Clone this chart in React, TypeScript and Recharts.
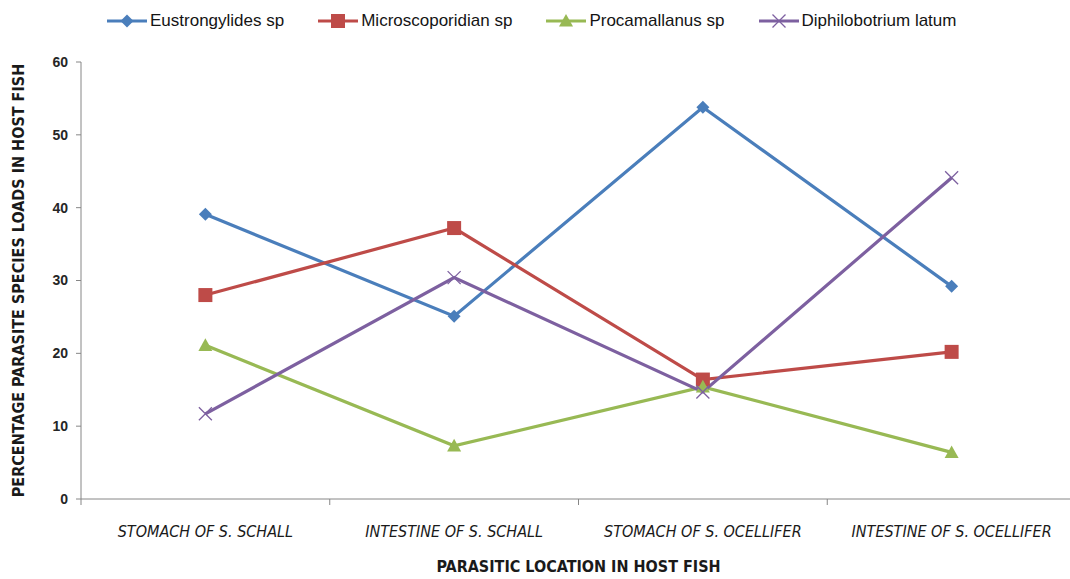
import React from 'react';
import { LineChart, Line, XAxis, YAxis, Label } from 'recharts';

// Parasite species loads (%) by location in the host fish
const locations = [
  'STOMACH OF S. SCHALL',
  'INTESTINE OF S. SCHALL',
  'STOMACH OF S. OCELLIFER',
  'INTESTINE OF S. OCELLIFER',
];
const eustrongylides = [39.1, 25.1, 53.8, 29.2];
const microscoporidian = [28.0, 37.2, 16.4, 20.2];
const procamallanus = [21.1, 7.3, 15.4, 6.4];
const diphilobotrium = [11.7, 30.4, 14.7, 44.1];
const yTicks = [0, 10, 20, 30, 40, 50, 60];

const seriesInfo = [
  { key: 'eus', name: 'Eustrongylides sp', color: '#4A7EBB', shape: 'diamond' },
  { key: 'mic', name: 'Microscoporidian sp', color: '#BE4B48', shape: 'square' },
  { key: 'pro', name: 'Procamallanus sp', color: '#98B954', shape: 'triangle' },
  { key: 'dip', name: 'Diphilobotrium latum', color: '#7D60A0', shape: 'cross' },
];

const data = locations.map((location, i) => ({
  location,
  eus: eustrongylides[i],
  mic: microscoporidian[i],
  pro: procamallanus[i],
  dip: diphilobotrium[i],
}));

const W = 1070;
const H = 579;
const MARGIN = { top: 62, right: -6, bottom: 30, left: 21 };
const Y_AXIS_W = 60;
const X_AXIS_H = 50;
const PLOT_LEFT = MARGIN.left + Y_AXIS_W;
const PLOT_W = W - PLOT_LEFT - MARGIN.right;
const PLOT_BOTTOM = H - MARGIN.bottom - X_AXIS_H;
const BAND = PLOT_W / locations.length;
const AXIS_COLOR = '#868686';
const FONT = '"Liberation Sans", Arial, sans-serif';
const NARROW = '"Liberation Sans Narrow", "DejaVu Sans Condensed", Arial, sans-serif';

function Marker({ shape, color, cx, cy }: { shape: string; color: string; cx: number; cy: number }) {
  if (cx == null || cy == null) return null;
  if (shape === 'diamond') {
    const r = 6.5;
    return <path d={`M${cx},${cy - r}L${cx + r},${cy}L${cx},${cy + r}L${cx - r},${cy}Z`} fill={color} />;
  }
  if (shape === 'square') {
    const r = 7;
    return <rect x={cx - r} y={cy - r} width={r * 2} height={r * 2} fill={color} />;
  }
  if (shape === 'triangle') {
    const r = 7;
    return <path d={`M${cx},${cy - r}L${cx + r},${cy + r * 0.8}L${cx - r},${cy + r * 0.8}Z`} fill={color} />;
  }
  const r = 6.5;
  return (
    <path
      d={`M${cx - r},${cy - r}L${cx + r},${cy + r}M${cx - r},${cy + r}L${cx + r},${cy - r}`}
      stroke={color}
      strokeWidth={1.3}
      fill="none"
    />
  );
}

function XTick(props: any) {
  const { x, payload } = props;
  return (
    <g>
      <line x1={x - BAND / 2} x2={x - BAND / 2} y1={PLOT_BOTTOM} y2={PLOT_BOTTOM + 6} stroke={AXIS_COLOR} />
      <text
        x={x}
        y={PLOT_BOTTOM + 38}
        textAnchor="middle"
        fontFamily={NARROW}
        fontStyle="italic"
        fontSize={16}
        fill="#1a1a1a"
      >
        {payload.value}
      </text>
    </g>
  );
}

function LegendRow() {
  return (
    <div
      style={{
        position: 'absolute',
        top: 11,
        left: 107,
        display: 'flex',
        alignItems: 'center',
        fontFamily: FONT,
        fontSize: 17,
        color: '#141414',
      }}
    >
      {seriesInfo.map((s, i) => (
        <div key={s.key} style={{ display: 'flex', alignItems: 'center', marginRight: i < 3 ? 34 : 0 }}>
          <svg width={40} height={20} style={{ marginRight: 3 }}>
            <line x1={0} x2={40} y1={10} y2={10} stroke={s.color} strokeWidth={3} />
            <Marker shape={s.shape} color={s.color} cx={20} cy={10} />
          </svg>
          <span>{s.name}</span>
        </div>
      ))}
    </div>
  );
}

export default function App() {
  return (
    <div style={{ position: 'absolute', left: 0, top: 0, width: W, height: H, background: '#fff' }}>
      <LegendRow />
      <LineChart width={W} height={H} data={data} margin={MARGIN}>
        <XAxis
          dataKey="location"
          scale="band"
          height={X_AXIS_H}
          axisLine={{ stroke: AXIS_COLOR }}
          tickLine={false}
          tick={<XTick />}
          interval={0}
        >
          <Label
            content={() => (
              <text
                x={PLOT_LEFT + PLOT_W / 2}
                y={H - 7}
                textAnchor="middle"
                fontFamily={NARROW}
                fontWeight="bold"
                fontSize={16}
                fill="#1a1a1a"
              >
                PARASITIC LOCATION IN HOST FISH
              </text>
            )}
          />
        </XAxis>
        <YAxis
          width={Y_AXIS_W}
          domain={[0, 60]}
          ticks={yTicks}
          interval={0}
          axisLine={{ stroke: AXIS_COLOR }}
          tickLine={{ stroke: AXIS_COLOR }}
          tickSize={5}
          tickMargin={8}
          tick={{ fontFamily: FONT, fontWeight: 'bold', fontSize: 14, fill: '#262626' }}
        >
          <Label
            content={() => (
              <text
                x={0}
                y={0}
                transform={`translate(24, ${(MARGIN.top + PLOT_BOTTOM) / 2}) rotate(-90)`}
                textAnchor="middle"
                fontFamily={NARROW}
                fontWeight="bold"
                fontSize={16}
                fill="#1a1a1a"
              >
                PERCENTAGE PARASITE SPECIES LOADS IN HOST FISH
              </text>
            )}
          />
        </YAxis>
        {seriesInfo.map((s) => (
          <Line
            key={s.key}
            type="linear"
            dataKey={s.key}
            name={s.name}
            stroke={s.color}
            strokeWidth={3.2}
            isAnimationActive={false}
            dot={(p: any) => <Marker key={`${s.key}-${p.index}`} shape={s.shape} color={s.color} cx={p.cx} cy={p.cy} />}
            activeDot={false}
          />
        ))}
      </LineChart>
    </div>
  );
}
